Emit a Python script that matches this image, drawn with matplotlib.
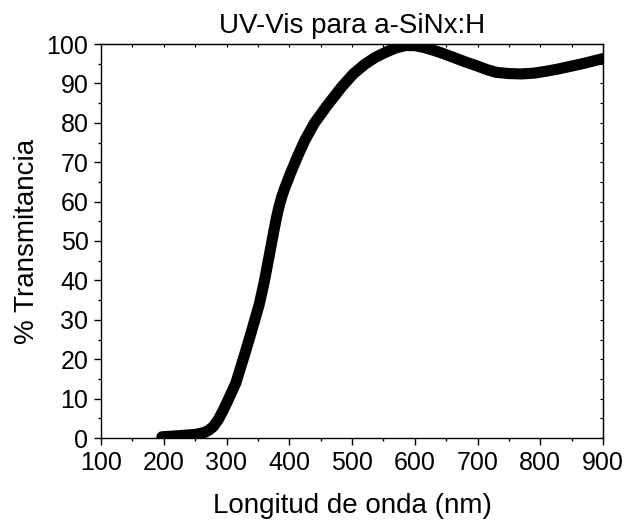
import matplotlib
matplotlib.use("Agg")
import matplotlib.pyplot as plt
from matplotlib.ticker import MultipleLocator

wavelength = [197, 225, 250, 265, 272, 279, 287, 295, 305, 315, 331, 339, 352, 360, 368, 376, 380,
              384, 388, 393, 402, 413, 425, 440, 459, 483, 502, 520, 537, 555, 570, 585, 600, 615,
              630, 645, 660, 680, 700, 715, 730, 750, 770, 790, 810, 830, 850, 870, 885, 900]
transmittance = [0.3, 0.6, 0.9, 1.4, 2.0, 2.9, 4.7, 7.1, 10.5, 14.0, 22.3, 26.6, 33.8, 39.5, 46.2,
                 53.0, 56.2, 58.9, 61.2, 63.5, 67.2, 71.4, 75.6, 79.9, 84.1, 89.0, 92.4, 94.8,
                 96.6, 98.0, 99.0, 99.6, 99.6, 99.1, 98.4, 97.6, 96.7, 95.5, 94.4, 93.5, 92.8,
                 92.5, 92.4, 92.6, 93.1, 93.7, 94.4, 95.1, 95.7, 96.3]

x_ticks = [100, 200, 300, 400, 500, 600, 700, 800, 900]
y_ticks = [0, 10, 20, 30, 40, 50, 60, 70, 80, 90, 100]

plt.rcParams['font.family'] = ['Liberation Sans', 'DejaVu Sans']

fig = plt.figure(figsize=(6.26, 5.21), dpi=100)
ax = fig.add_axes([101/626, 1 - 438/521, (603-101)/626, (438-44)/521])

ax.plot(wavelength, transmittance, color='black', lw=8, solid_capstyle='round', solid_joinstyle='round')

ax.set_xlim(100, 900)
ax.set_ylim(0, 100)
ax.set_xticks(x_ticks)
ax.set_yticks(y_ticks)
ax.xaxis.set_minor_locator(MultipleLocator(50))
ax.yaxis.set_minor_locator(MultipleLocator(5))

ax.tick_params(axis='both', which='major', direction='out', length=5, width=1, labelsize=18, pad=4, color='black')
ax.tick_params(axis='both', which='minor', direction='out', length=2.5, width=1, color='black')

secx = ax.secondary_xaxis('top')
secx.set_xticks(x_ticks)
secx.xaxis.set_minor_locator(MultipleLocator(50))
secx.tick_params(which='both', direction='in', length=2, labeltop=False, width=0.8)
secy = ax.secondary_yaxis('right')
secy.set_yticks(y_ticks)
secy.yaxis.set_minor_locator(MultipleLocator(5))
secy.tick_params(which='both', direction='in', length=2, labelright=False, width=0.8)

for s in ax.spines.values():
    s.set_linewidth(1)

ax.set_title('UV-Vis para a-SiNx:H', fontsize=20, pad=8)
ax.set_xlabel('Longitud de onda (nm)', fontsize=20, labelpad=13)
ax.set_ylabel('% Transmitancia', fontsize=20, labelpad=5)

fig.savefig('out.png', dpi=100)
